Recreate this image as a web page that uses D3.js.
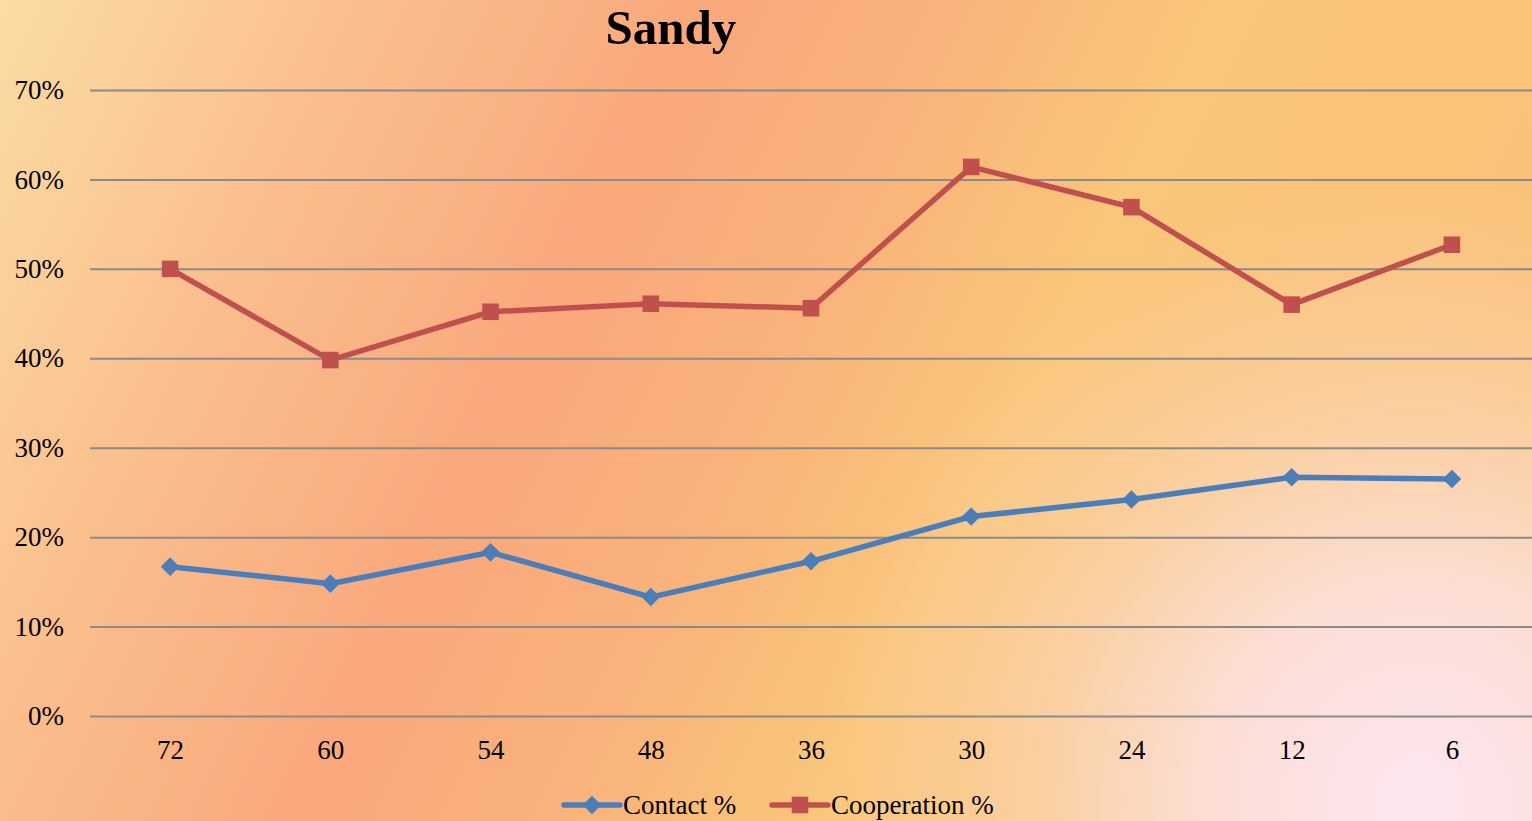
<!DOCTYPE html>
<html>
<head>
<meta charset="utf-8">
<script src="https://cdn.jsdelivr.net/npm/d3@7"></script>
<style>
  body { margin: 0; overflow: hidden; }
  svg { display: block; font-family: "Liberation Serif", "DejaVu Serif", serif; }
</style>
</head>
<body>
<svg id="svg" width="1532" height="821"></svg>
<script>
// hours before landfall
const categories = ['72', '60', '54', '48', '36', '30', '24', '12', '6']
const contact = [0.167, 0.148, 0.183, 0.133, 0.173, 0.223, 0.242, 0.267, 0.265]
const cooperation = [0.500, 0.398, 0.452, 0.461, 0.456, 0.614, 0.569, 0.460, 0.527]
const yTicks = [0, 0.1, 0.2, 0.3, 0.4, 0.5, 0.6, 0.7]
const seriesNames = ['Contact %', 'Cooperation %']
const colors = ['#4a7ebb', '#c0504d']

const W = 1532, H = 821
const margin = { top: 90, right: 0, bottom: 105, left: 90 }

const svg = d3.select('#svg')
const defs = svg.append('defs')

// diagonal warm background
const bg = defs.append('linearGradient')
    .attr('id', 'bg')
    .attr('gradientUnits', 'userSpaceOnUse')
    .attr('x1', 0).attr('y1', 0).attr('x2', 1532).attr('y2', 750)
bg.append('stop').attr('offset', '0%').attr('stop-color', '#fbdca4')
bg.append('stop').attr('offset', '20%').attr('stop-color', '#fabd8b')
bg.append('stop').attr('offset', '37%').attr('stop-color', '#f9a87c')
bg.append('stop').attr('offset', '50%').attr('stop-color', '#f9b27b')
bg.append('stop').attr('offset', '64%').attr('stop-color', '#f9c67a')
bg.append('stop').attr('offset', '100%').attr('stop-color', '#f9c07a')

// pale pink glow, bottom right
const glow = defs.append('radialGradient')
    .attr('id', 'glow')
    .attr('gradientUnits', 'userSpaceOnUse')
    .attr('cx', 1420).attr('cy', 800).attr('r', 620)
glow.append('stop').attr('offset', '0%').attr('stop-color', '#fde6f0').attr('stop-opacity', 1)
glow.append('stop').attr('offset', '35%').attr('stop-color', '#fce0dc').attr('stop-opacity', 0.92)
glow.append('stop').attr('offset', '72%').attr('stop-color', '#fbd6b4').attr('stop-opacity', 0.45)
glow.append('stop').attr('offset', '100%').attr('stop-color', '#fad0a8').attr('stop-opacity', 0)

svg.append('rect').attr('width', W).attr('height', H).attr('fill', 'url(#bg)')
svg.append('rect').attr('width', W).attr('height', H).attr('fill', 'url(#glow)')

const x = d3.scalePoint()
    .domain(categories)
    .range([margin.left, W - margin.right])
    .padding(0.5)

const y = d3.scaleLinear()
    .domain([0, 0.7])
    .range([H - margin.bottom, margin.top])

// gridlines + y labels
svg.append('g')
    .attr('transform', `translate(${margin.left},0)`)
    .call(d3.axisLeft(y).tickValues(yTicks).tickFormat(d3.format('.0%'))
        .tickSize(-(W - margin.left - margin.right)).tickPadding(26))
    .call(g => g.select('.domain').remove())
    .call(g => g.selectAll('line').attr('stroke', '#8a8a8a').attr('stroke-width', 2))
    .call(g => g.selectAll('text').attr('fill', '#000').attr('font-size', 27)
        .attr('font-family', '"Liberation Serif", serif'))

// x labels
svg.append('g')
    .attr('transform', `translate(0,${H - margin.bottom})`)
    .call(d3.axisBottom(x).tickSize(0).tickPadding(24))
    .call(g => g.select('.domain').remove())
    .call(g => g.selectAll('text').attr('fill', '#000').attr('font-size', 27)
        .attr('font-family', '"Liberation Serif", serif'))

const line = d3.line()
    .x((d, i) => x(categories[i]))
    .y(d => y(d))

const diamond = d3.symbol().type(d3.symbolDiamond2).size(220)
const square = d3.symbol().type(d3.symbolSquare2).size(350)

svg.append('path').datum(contact)
    .attr('d', line).attr('fill', 'none')
    .attr('stroke', colors[0]).attr('stroke-width', 5.5)
svg.append('path').datum(cooperation)
    .attr('d', line).attr('fill', 'none')
    .attr('stroke', colors[1]).attr('stroke-width', 5.5)

svg.selectAll('.m1').data(contact).enter().append('path')
    .attr('transform', (d, i) => `translate(${x(categories[i])},${y(d)})`)
    .attr('d', diamond).attr('fill', colors[0])
svg.selectAll('.m2').data(cooperation).enter().append('path')
    .attr('transform', (d, i) => `translate(${x(categories[i])},${y(d)})`)
    .attr('d', square).attr('fill', colors[1])

// title
svg.append('text')
    .attr('x', 671).attr('y', 44)
    .attr('text-anchor', 'middle')
    .attr('font-size', 49).attr('font-weight', 'bold')
    .text('Sandy')

// legend
const legendX = [564, 772]
const leg = svg.selectAll('.leg').data(seriesNames).enter().append('g')
    .attr('transform', (d, i) => `translate(${legendX[i]},805)`)
leg.append('line')
    .attr('x1', 0).attr('x2', 56)
    .attr('stroke', (d, i) => colors[i]).attr('stroke-width', 5.5)
    .attr('stroke-linecap', 'round')
leg.append('path')
    .attr('transform', 'translate(28,0)')
    .attr('d', (d, i) => i === 0 ? diamond() : square())
    .attr('fill', (d, i) => colors[i])
leg.append('text')
    .attr('x', 59).attr('y', 9)
    .attr('font-size', 27)
    .text(d => d)
</script>
</body>
</html>
